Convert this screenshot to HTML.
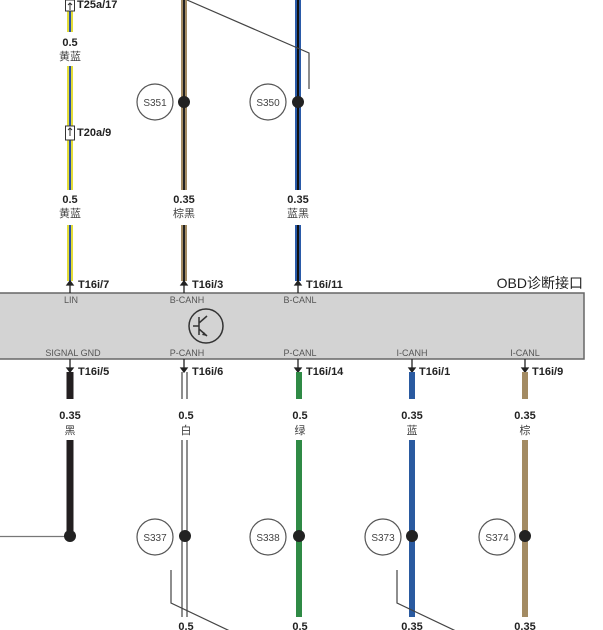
<!DOCTYPE html><html><head><meta charset="utf-8"><style>body{margin:0;background:#fff}svg{display:block}</style></head><body>
<svg width="603" height="630" viewBox="0 0 603 630" xmlns="http://www.w3.org/2000/svg" font-family="Liberation Sans, Noto Sans CJK SC, sans-serif">
<rect x="-2" y="293" width="586" height="66" fill="#d3d3d3" stroke="#666" stroke-width="1.5"/>
<text x="583" y="288" font-size="14" text-anchor="end" fill="#222">OBD诊断接口</text>
<g font-size="9" fill="#555" text-anchor="middle">
<text x="71" y="303">LIN</text><text x="187" y="303">B-CANH</text><text x="300" y="303">B-CANL</text>
<text x="73" y="356">SIGNAL GND</text><text x="187" y="356">P-CANH</text><text x="300" y="356">P-CANL</text><text x="412" y="356">I-CANH</text><text x="525" y="356">I-CANL</text>
</g>
<circle cx="206" cy="326" r="17" fill="none" stroke="#333" stroke-width="1.5"/>
<path d="M199 317v18M199 326h-6M199 323l8-7M199 329l8 7" stroke="#333" stroke-width="1.5" fill="none"/>
<path d="M207 336l-5-1 2-3z" fill="#333"/>
<g>
<rect x="67" y="0" width="6" height="32" fill="#e2dc3a"/><rect x="69" y="0" width="2" height="32" fill="#2a4fa0"/>
<rect x="67" y="66" width="6" height="124" fill="#e2dc3a"/><rect x="69" y="66" width="2" height="124" fill="#2a4fa0"/>
<rect x="67" y="225" width="6" height="56" fill="#e2dc3a"/><rect x="69" y="225" width="2" height="56" fill="#2a4fa0"/>
<rect x="65.5" y="0" width="9" height="11" fill="#fff" stroke="#333"/><path d="M70 10V3M68 5l2-2 2 2" stroke="#333" fill="none"/>
<rect x="65.5" y="126" width="9" height="14" fill="#fff" stroke="#333"/><path d="M70 136V128M68 130l2-2 2 2" stroke="#333" fill="none"/>
</g>
<rect x="181" y="0" width="6" height="190" fill="#a38b63"/><rect x="183" y="0" width="2" height="190" fill="#222"/>
<rect x="181" y="225" width="6" height="56" fill="#a38b63"/><rect x="183" y="225" width="2" height="56" fill="#222"/>
<rect x="295" y="0" width="6" height="190" fill="#2a5aa8"/><rect x="297" y="0" width="2" height="190" fill="#111"/>
<rect x="295" y="225" width="6" height="56" fill="#2a5aa8"/><rect x="297" y="225" width="2" height="56" fill="#111"/>
<path d="M187 0L309 53V89" stroke="#444" stroke-width="1.2" fill="none"/>
<g stroke="#222" stroke-width="1.3" fill="#222">
<path d="M70 281V293M184 281V293M298 281V293" fill="none"/>
<path d="M67 285l3-4 3 4zM181 285l3-4 3 4zM295 285l3-4 3 4z"/>
</g>
<g font-size="11" font-weight="bold" fill="#222">
<text x="77" y="8">T25a/17</text><text x="77" y="136">T20a/9</text>
<text x="78" y="288">T16i/7</text><text x="192" y="288">T16i/3</text><text x="306" y="288">T16i/11</text>
<text x="78" y="375">T16i/5</text><text x="192" y="375">T16i/6</text><text x="306" y="375">T16i/14</text><text x="419" y="375">T16i/1</text><text x="532" y="375">T16i/9</text>
</g>
<g text-anchor="middle" fill="#222">
<g font-size="11" font-weight="bold"><text x="70" y="46">0.5</text><text x="70" y="203">0.5</text><text x="184" y="203">0.35</text><text x="298" y="203">0.35</text>
<text x="70" y="419">0.35</text><text x="186" y="419">0.5</text><text x="300" y="419">0.5</text><text x="412" y="419">0.35</text><text x="525" y="419">0.35</text>
<text x="186" y="630">0.5</text><text x="300" y="630">0.5</text><text x="412" y="630">0.35</text><text x="525" y="630">0.35</text></g>
<g font-size="11" fill="#444"><text x="70" y="60">黄蓝</text><text x="70" y="217">黄蓝</text><text x="184" y="217">棕黑</text><text x="298" y="217">蓝黑</text>
<text x="70" y="434">黑</text><text x="186" y="434">白</text><text x="300" y="434">绿</text><text x="412" y="434">蓝</text><text x="525" y="434">棕</text></g>
</g>
<g fill="none" stroke="#555" stroke-width="1.2"><circle cx="155" cy="102" r="18"/><circle cx="268" cy="102" r="18"/>
<circle cx="155" cy="537" r="18"/><circle cx="268" cy="537" r="18"/><circle cx="383" cy="537" r="18"/><circle cx="497" cy="537" r="18"/></g>
<g font-size="10" fill="#444" text-anchor="middle"><text x="155" y="106">S351</text><text x="268" y="106">S350</text>
<text x="155" y="541">S337</text><text x="268" y="541">S338</text><text x="383" y="541">S373</text><text x="497" y="541">S374</text></g>
<g stroke="#222" stroke-width="1.3" fill="#222">
<path d="M70 359V372M184 359V372M298 359V372M412 359V372M525 359V372" fill="none"/>
<path d="M67 368l3 4 3-4zM181 368l3 4 3-4zM295 368l3 4 3-4zM409 368l3 4 3-4zM522 368l3 4 3-4z"/>
</g>
<rect x="66.5" y="372" width="7" height="27" fill="#231f20"/><rect x="66.5" y="440" width="7" height="96" fill="#231f20"/>
<path d="M0 536.5H70" stroke="#777" stroke-width="1.3"/>
<g stroke="#444" stroke-width="1.2"><path d="M182 372V399M187 372V399M182 440V617M187 440V617"/></g>
<rect x="296" y="372" width="6" height="27" fill="#2f8a45"/><rect x="296" y="440" width="6" height="177" fill="#2f8a45"/>
<rect x="409" y="372" width="6" height="27" fill="#2a5aa0"/><rect x="409" y="440" width="6" height="177" fill="#2a5aa0"/>
<rect x="522" y="372" width="6" height="27" fill="#a38b63"/><rect x="522" y="440" width="6" height="177" fill="#a38b63"/>
<g fill="#222"><circle cx="184" cy="102" r="6"/><circle cx="298" cy="102" r="6"/><circle cx="70" cy="536" r="6"/><circle cx="185" cy="536" r="6"/><circle cx="299" cy="536" r="6"/><circle cx="412" cy="536" r="6"/><circle cx="525" cy="536" r="6"/></g>
<path d="M171 570V603L232 632M397 570V603L458 632" stroke="#444" stroke-width="1.2" fill="none"/>
</svg>
</body></html>
